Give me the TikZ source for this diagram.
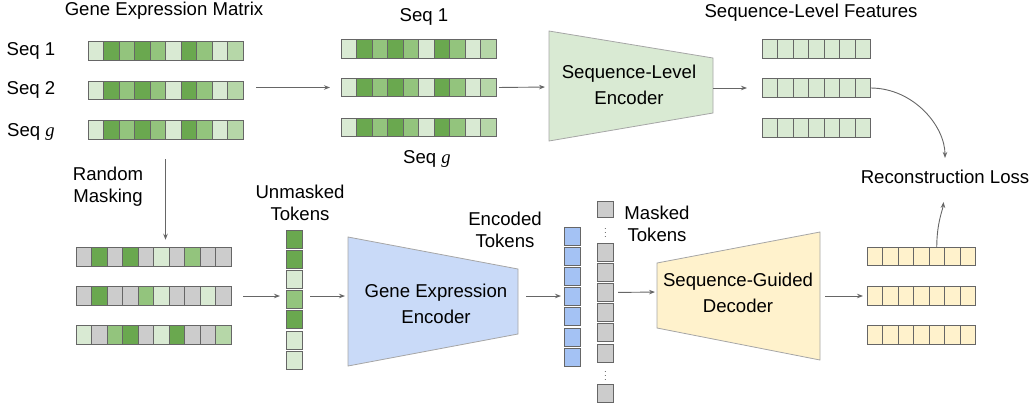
\documentclass[tikz,border=0pt]{standalone}
\usepackage{fontspec}
\setmainfont{Liberation Sans}
\newfontfamily\serifit{Liberation Serif}
\usetikzlibrary{arrows.meta}
\definecolor{gLt}{HTML}{D9EAD3}
\definecolor{gPl}{HTML}{B6D7A8}
\definecolor{gMd}{HTML}{93C47D}
\definecolor{gDk}{HTML}{6AA84F}
\definecolor{tGy}{HTML}{CCCCCC}
\definecolor{tBl}{HTML}{A4C2F4}
\definecolor{eBl}{HTML}{C9DAF8}
\definecolor{dYl}{HTML}{FFF2CC}
\definecolor{lnGy}{HTML}{666666}
\tikzset{
  tok/.style={draw=lnGy, line width=1pt, minimum width=15.5pt, minimum height=18.5pt, inner sep=0pt, outer sep=0pt},
  vtok/.style={tok, minimum width=16pt, minimum height=18pt},
  lbl/.style={font=\fontsize{18.6}{22}\selectfont, align=center, inner sep=1pt},
  blocktext/.style={font=\fontsize{18.6}{25.5}\selectfont, align=center, inner sep=1pt},
  dotsym/.style={font=\fontsize{7.5}{7.5}\selectfont, inner sep=0pt, text=black},
  flow/.style={-{Stealth[length=6pt,width=4.5pt]}, draw=lnGy, line width=0.9pt},
  block/.style={draw=black!35, line width=0.8pt},
}
\newcommand{\tokrow}[4]{\foreach \col [count=\i] in {#4} {\node[tok, fill=\col] (#1-\i) at ({#2+(\i-0.5)*15.5},#3) {};}}
\newcommand{\tokcol}[4]{\foreach \col [count=\i] in {#4} {\node[vtok, fill=\col] (#1-\i) at (#2,{#3+(\i-0.5)*20.2}) {};}}
\begin{document}
\begin{tikzpicture}[x=1pt,y=-1pt]
\useasboundingbox (0,0) rectangle (1033,408);
% gene expression matrix
\node[lbl] (gemT) at (164,11) {Gene Expression Matrix};
\node[lbl] (gs1) at (31,51) {Seq 1}; \node[lbl] (gs2) at (31,90) {Seq 2}; \node[lbl] (gsg) at (31,132) {Seq {\serifit\itshape g}};
\tokrow{gm1}{88}{51}{gLt,gDk,gMd,gDk,gMd,gLt,gDk,gMd,gLt,gPl}
\tokrow{gm2}{88}{90.5}{gLt,gDk,gMd,gDk,gMd,gLt,gDk,gMd,gLt,gPl}
\tokrow{gm3}{88}{130}{gLt,gDk,gMd,gDk,gMd,gLt,gDk,gMd,gLt,gPl}
% sequences
\node[lbl] (ms1) at (424,17) {Seq 1}; \node[lbl] (msg) at (427,159) {Seq {\serifit\itshape g}};
\tokrow{mid1}{341}{49}{gLt,gDk,gMd,gDk,gMd,gLt,gDk,gMd,gLt,gPl}
\tokrow{mid2}{341}{87.5}{gLt,gDk,gMd,gDk,gMd,gLt,gDk,gMd,gLt,gPl}
\tokrow{mid3}{341}{127.5}{gLt,gDk,gMd,gDk,gMd,gLt,gDk,gMd,gLt,gPl}
% sequence-level encoder
\draw[block, fill=gLt] (549,31) -- (713,58) -- (713,113) -- (549,141) -- cycle;
\node[blocktext] (senc) at (629,85) {Sequence-Level\\Encoder};
\coordinate (senc-w) at (549,87); \coordinate (senc-e) at (713,88);
% sequence-level features
\node[lbl] (sfT) at (811,13) {Sequence-Level Features};
\tokrow{sf1}{762}{49}{gLt,gLt,gLt,gLt,gLt,gLt,gLt}
\tokrow{sf2}{762}{88}{gLt,gLt,gLt,gLt,gLt,gLt,gLt}
\tokrow{sf3}{762}{128}{gLt,gLt,gLt,gLt,gLt,gLt,gLt}
\node[lbl] (recon) at (945,177) {Reconstruction Loss};
% random masking
\node[lbl] (rmask) at (108,187) {Random\\Masking};
\tokrow{mk1}{76}{257}{tGy,gDk,tGy,gDk,tGy,gLt,tGy,gMd,tGy,tGy}
\tokrow{mk2}{76}{296}{tGy,gDk,tGy,tGy,gMd,gLt,tGy,tGy,gLt,tGy}
\tokrow{mk3}{76}{335}{gLt,tGy,gMd,gDk,tGy,gLt,gDk,tGy,tGy,gPl}
% unmasked tokens
\node[lbl] (umT) at (300,203) {Unmasked\\Tokens};
\tokcol{um}{294}{229}{gDk,gDk,gLt,gMd,gDk,gLt,gLt}
% gene expression encoder
\draw[block, fill=eBl] (348,237) -- (518,269) -- (518,334) -- (348,366) -- cycle;
\node[blocktext] (genc) at (436,304) {Gene Expression\\Encoder};
\coordinate (genc-w) at (348,296); \coordinate (genc-e) at (518,296);
% encoded tokens
\node[lbl] (encT) at (505,230) {Encoded\\Tokens};
\tokcol{enc}{572}{226}{tBl,tBl,tBl,tBl,tBl,tBl,tBl}
% masked tokens
\node[lbl] (mtT) at (657,224) {Masked\\Tokens};
\node[vtok, fill=tGy, minimum height=16pt] (mtop) at (605,209) {};
\node[dotsym] (mdot1) at (605.5,230) {\vdots};
\tokcol{mt}{605}{242}{tGy,tGy,tGy,tGy,tGy,tGy}
\node[dotsym] (mdot2) at (605.5,373) {\vdots};
\node[vtok, fill=tGy] (mbot) at (605,393) {};
% sequence-guided decoder
\draw[block, fill=dYl] (657,263) -- (820,232) -- (820,360) -- (657,328) -- cycle;
\node[blocktext] (dec) at (738,293) {Sequence-Guided\\Decoder};
\coordinate (dec-w) at (657,292); \coordinate (dec-e) at (820,296);
% reconstructed rows
\tokrow{out1}{867}{256.5}{dYl,dYl,dYl,dYl,dYl,dYl,dYl}
\tokrow{out2}{867}{296}{dYl,dYl,dYl,dYl,dYl,dYl,dYl}
\tokrow{out3}{867}{335}{dYl,dYl,dYl,dYl,dYl,dYl,dYl}

\draw[flow, shorten <=13pt, shorten >=11pt] (gm2-10.east |- mid2-1.west) to (mid2-1.west); \draw[flow, shorten <=3pt, shorten >=4pt] (mid2-10.east) to (senc-w);
\draw[flow, shorten >=15pt] (senc-e) to (sf2-1.west); \draw[flow, shorten >=11pt] (sf2-7.east) to[out=0,in=90] (recon.north);
\draw[flow, shorten <=20pt, shorten >=8pt] (gm3-5.south east) to (gm3-5.south east |- mk1-5.north);
\draw[flow, shorten <=12pt, shorten >=6pt] (mk2-10.east) to (mk2-10.east -| um-4.west); \draw[flow, shorten <=8pt, shorten >=3pt] (um-4.east |- genc-w) to (genc-w);
\draw[flow, shorten <=8pt, shorten >=3pt] (genc-e) to (enc-4.west |- genc-e); \draw[flow, shorten <=5pt, shorten >=2pt] (mt-3.east) to (dec-w);
\draw[flow, shorten <=5pt, shorten >=4pt] (dec-e) to (out2-1.west); \draw[flow, shorten >=17pt] (out1-5.north) to[out=90,in=-95] (recon.south);
\end{tikzpicture}
\end{document}
